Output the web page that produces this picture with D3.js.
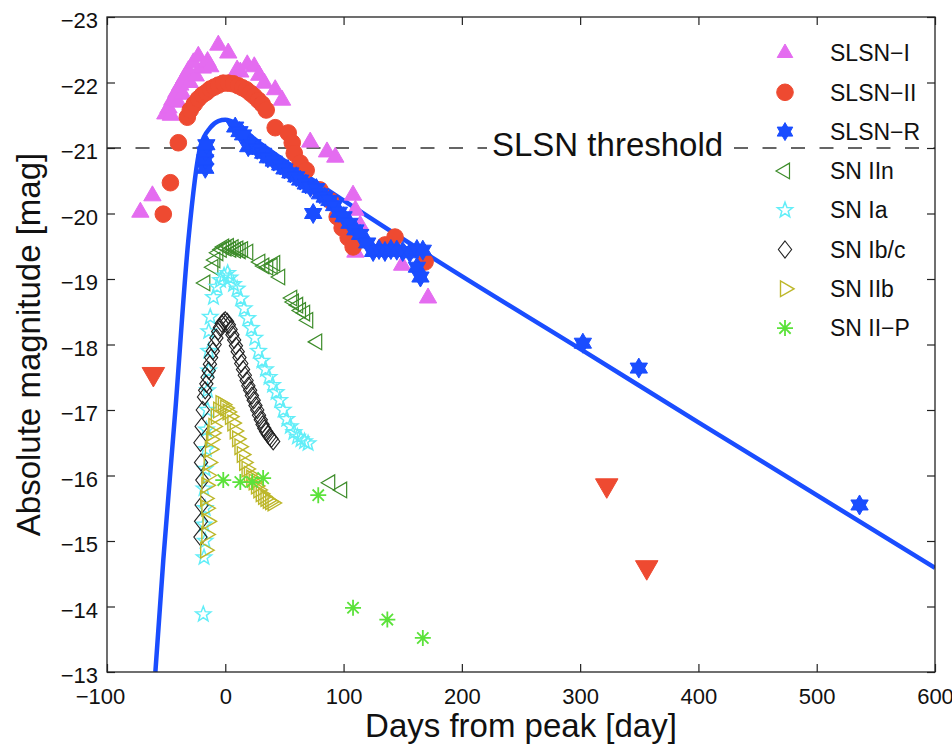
<!DOCTYPE html>
<html>
<head>
<meta charset="utf-8">
<script src="https://cdn.jsdelivr.net/npm/d3@7"></script>
<style>
  html, body { margin: 0; padding: 0; background: #ffffff; }
  #idMyCanvas { width: 952px; height: 750px; }
</style>
</head>
<body>
<div id="idMyCanvas"></div>
<script>
// Data (days from peak, absolute magnitude)
// -------------------
let x_ticks = [-100, 0, 100, 200, 300, 400, 500, 600];
let y_ticks = [-23, -22, -21, -20, -19, -18, -17, -16, -15, -14, -13];

let legend_names = ["SLSN\u2212I", "SLSN\u2212II", "SLSN\u2212R", "SN IIn", "SN Ia", "SN Ib/c", "SN IIb", "SN II\u2212P"];

let threshold_mag = -21;
let threshold_label = "SLSN threshold";

let slsn_i = [
  [-71.8, -20.02], [-61.6, -20.27], [-50.7, -21.52], [-48, -21.61], [-46, -21.5], [-44.8, -21.73],
  [-41.4, -21.85], [-40, -21.7], [-38, -21.96], [-36, -21.82], [-34.6, -22.07], [-31.2, -22.18],
  [-30, -22.0], [-27, -22.3], [-25, -22.1], [-22.8, -22.4], [-19, -22.22], [-15, -22.32],
  [-12.7, -22.24], [-5.9, -22.57], [2.5, -22.45], [10, -22.19], [12.7, -22.16], [18.6, -22.27],
  [24.5, -22.24], [28.7, -22.11], [33, -21.99], [42.2, -21.89], [48, -21.73], [71.8, -21.09],
  [86, -20.94], [93, -20.86], [108, -20.28], [110, -20.05], [114, -19.82], [110, -19.41],
  [149.5, -19.21], [171.4, -18.71]
];

let slsn_ii = [
  [-52.4, -19.99], [-46.4, -20.47], [-39.7, -21.08], [-32.1, -21.47], [-29.6, -21.58], [-26.2, -21.67],
  [-22.8, -21.75], [-19.4, -21.81], [-16, -21.85], [-12.7, -21.9], [-9.3, -21.93], [-5.9, -21.96],
  [-1.7, -21.99], [2.5, -21.99], [6.8, -21.98], [11, -21.95], [14.4, -21.92], [17.7, -21.89],
  [21.1, -21.84], [24.5, -21.79], [27.9, -21.73], [31.2, -21.67], [34.6, -21.58], [42.2, -21.31],
  [53.2, -21.23], [56.6, -21.08], [58.3, -20.92], [63.3, -20.77], [68.4, -20.66], [80, -20.36],
  [88.7, -20.2], [94.6, -19.95], [98.8, -19.78], [103.9, -19.63], [108.1, -19.49], [135.1, -19.52],
  [143.5, -19.64], [168.9, -19.26]
];

let slsn_ii_limits = [[-60.8, -17.55], [322.5, -15.85], [356.3, -14.6]];

let slsn_r = [
  [-16.9, -20.69], [-16.9, -20.82], [-16.9, -20.94], [-16, -21.05], [8.4, -21.32], [12, -21.25],
  [15, -21.2], [19.4, -21.02], [23, -21.05], [27, -20.98], [32, -20.92], [36, -20.85],
  [41, -20.8], [46.4, -20.74], [50, -20.68], [55, -20.62], [60, -20.56], [63.3, -20.51],
  [68, -20.45], [72, -20.4], [74.3, -20.0], [77, -20.38], [80, -20.3], [84, -20.25],
  [88, -20.2], [92, -20.12], [96, -20.02], [100, -19.95], [105, -19.85], [110, -19.75],
  [114, -19.68], [120, -19.55], [125, -19.42], [130, -19.45], [135, -19.42], [140, -19.45],
  [145, -19.44], [150, -19.42], [156, -19.4], [162, -19.45], [167, -19.44], [162, -19.18],
  [165, -19.03], [302.3, -18.02], [349.6, -17.64], [536.2, -15.55]
];

let model_curve = [
  [-59.1, -13.0], [-52.4, -14.71], [-42.2, -17.0], [-31.2, -19.6], [-21.1, -21.02], [-12.7, -21.31],
  [-5.9, -21.41], [0, -21.43], [8.4, -21.38], [16.9, -21.26], [25.3, -21.13], [38, -20.96],
  [100, -20.2], [179, -19.28], [302, -17.91], [401, -16.8], [600, -14.59]
];

let sn_iin = [
  [-16.9, -18.94], [-10.1, -19.18], [-8.4, -19.29], [-5.9, -19.4], [-3, -19.45], [-1, -19.49],
  [1, -19.47], [3, -19.5], [5, -19.45], [7, -19.48], [9, -19.44], [11, -19.46],
  [13, -19.43], [15, -19.45], [19.4, -19.41], [29.6, -19.26], [33, -19.2], [36.3, -19.18],
  [40, -19.2], [42.2, -19.24], [46.4, -19.03], [56.6, -18.71], [58, -18.65], [61.6, -18.6],
  [64, -18.52], [67.5, -18.48], [70.1, -18.37], [77.7, -18.04], [88.7, -15.89], [98.8, -15.78]
];

let sn_ia = [
  [-18.6, -13.88], [-18, -14.75], [-17, -15.0], [-18, -15.25], [-17, -15.5], [-18, -15.8],
  [-17, -16.1], [-16, -16.4], [-16, -16.7], [-15, -17.0], [-15, -17.3], [-14, -17.6],
  [-14, -17.9], [-14, -18.2], [-12.7, -18.42], [-10, -18.72], [-7, -18.88], [-4, -18.98],
  [-1, -19.05], [2, -19.09], [4, -19.02], [7, -18.92], [10, -18.85], [13, -18.7],
  [16, -18.55], [19, -18.4], [22, -18.25], [25, -18.1], [28, -17.9], [31, -17.75],
  [34, -17.62], [37, -17.5], [40, -17.38], [43, -17.27], [46, -17.15], [49, -17.0],
  [52, -16.86], [55, -16.75], [58, -16.66], [61, -16.59], [64, -16.55], [67, -16.52], [70, -16.49]
];

let sn_ibc = [
  [-21, -15.06], [-20.5, -15.3], [-20, -15.55], [-19.4, -15.93], [-20.5, -16.2], [-21, -16.5],
  [-20, -16.75], [-19, -17.0], [-18, -17.2], [-17, -17.3], [-16, -17.4], [-15, -17.5],
  [-14, -17.6], [-13, -17.7], [-12, -17.8], [-10.5, -17.9], [-9, -18.0], [-7.5, -18.1],
  [-6, -18.2], [-4.5, -18.26], [-3, -18.32], [-1.5, -18.35], [0, -18.37], [1.5, -18.35],
  [3, -18.3], [4.5, -18.23], [6, -18.15], [7.5, -18.07], [9, -17.98], [10.5, -17.89],
  [12, -17.8], [13.5, -17.71], [15, -17.62], [16.5, -17.53], [18, -17.45], [19.5, -17.37],
  [21, -17.3], [22.5, -17.22], [24, -17.15], [25.5, -17.07], [27, -17.0], [28.5, -16.92],
  [30, -16.85], [31.5, -16.78], [33, -16.72], [34.5, -16.67], [36, -16.63], [37.5, -16.59],
  [39, -16.56], [40.5, -16.52]
];

let sn_iib = [
  [-17, -14.86], [-16, -15.1], [-15, -15.3], [-16, -15.5], [-17, -15.65], [-16, -15.85],
  [-15, -16.0], [-14, -16.2], [-13, -16.4], [-12, -16.55], [-11, -16.65], [-10, -16.75],
  [-8, -16.9], [-6, -17.0], [-4, -17.1], [-2, -17.08], [0, -17.03], [2, -16.97],
  [4, -16.9], [6, -16.8], [8, -16.68], [10, -16.56], [12, -16.44], [14, -16.32],
  [16, -16.2], [18, -16.1], [20, -16.02], [22, -15.96], [24, -15.9], [26, -15.84],
  [28, -15.78], [30, -15.72], [32, -15.68], [34, -15.65], [36, -15.62], [38, -15.6], [40, -15.58]
];

let sn_iip = [
  [-1.7, -15.93], [12.7, -15.9], [22.8, -15.9], [32, -15.96], [78.6, -15.7],
  [108, -13.98], [137, -13.8], [167, -13.52]
];
// -------------------


let container_id = "idMyCanvas";
let canvas_xn = 952;
let canvas_yn = 750;
let font_family = "'Liberation Sans', Arial, Helvetica, sans-serif";

let svg_obj = d3.select("#" + container_id)
                .append("svg")
                  .attr("width", canvas_xn)
                  .attr("height", canvas_yn)
                  .attr("xmlns", "http://www.w3.org/2000/svg")
                  .style("background", "#ffffff");

let plot_x0 = 107, plot_x1 = 935;
let plot_y0 = 17, plot_y1 = 672;

let x_scale = d3.scaleLinear().domain([-100, 600]).range([plot_x0, plot_x1]);
let y_scale = d3.scaleLinear().domain([-23, -13]).range([plot_y0, plot_y1]);

svg_obj.append("clipPath")
  .attr("id", "plot_clip")
  .append("rect")
    .attr("x", plot_x0)
    .attr("y", plot_y0)
    .attr("width", plot_x1 - plot_x0)
    .attr("height", plot_y1 - plot_y0);


// Marker shapes (size argument = radius in px)
// -------------------
let sym_tri_up = { draw: function (ctx, r) {
  ctx.moveTo(0, -r); ctx.lineTo(r * 0.866, r * 0.5); ctx.lineTo(-r * 0.866, r * 0.5); ctx.closePath();
} };
let sym_tri_down = { draw: function (ctx, r) {
  ctx.moveTo(0, r); ctx.lineTo(-r * 0.866, -r * 0.5); ctx.lineTo(r * 0.866, -r * 0.5); ctx.closePath();
} };
let sym_tri_left = { draw: function (ctx, r) {
  ctx.moveTo(-r, 0); ctx.lineTo(r * 0.5, -r * 0.866); ctx.lineTo(r * 0.5, r * 0.866); ctx.closePath();
} };
let sym_tri_right = { draw: function (ctx, r) {
  ctx.moveTo(r, 0); ctx.lineTo(-r * 0.5, r * 0.866); ctx.lineTo(-r * 0.5, -r * 0.866); ctx.closePath();
} };
let sym_circle = { draw: function (ctx, r) {
  ctx.moveTo(r, 0); ctx.arc(0, 0, r, 0, 2 * Math.PI);
} };
let sym_hexagram = { draw: function (ctx, r) {
  sym_tri_up.draw(ctx, r);
  sym_tri_down.draw(ctx, r);
} };
let sym_pentagram = { draw: function (ctx, r) {
  for (let i = 0; i < 10; i++) {
    let a = -Math.PI / 2 + i * Math.PI / 5;
    let rr = (i % 2 === 0) ? r : r * 0.42;
    if (i === 0) ctx.moveTo(rr * Math.cos(a), rr * Math.sin(a));
    else ctx.lineTo(rr * Math.cos(a), rr * Math.sin(a));
  }
  ctx.closePath();
} };
let sym_diamond = { draw: function (ctx, r) {
  ctx.moveTo(0, -r); ctx.lineTo(r * 0.78, 0); ctx.lineTo(0, r); ctx.lineTo(-r * 0.78, 0); ctx.closePath();
} };
let sym_asterisk = { draw: function (ctx, r) {
  let d = r * 0.707;
  ctx.moveTo(-r, 0); ctx.lineTo(r, 0);
  ctx.moveTo(0, -r); ctx.lineTo(0, r);
  ctx.moveTo(-d, -d); ctx.lineTo(d, d);
  ctx.moveTo(-d, d); ctx.lineTo(d, -d);
} };
// -------------------


// Series styling (legend order)
// -------------------
let series_list = [
  { values: slsn_i,  shape: sym_tri_up,    r: 10,  fill: "#e46cf0", stroke: "#e46cf0", sw: 1 },
  { values: slsn_ii, shape: sym_circle,    r: 8.3, fill: "#ee4a31", stroke: "#ee4a31", sw: 1 },
  { values: slsn_r,  shape: sym_hexagram,  r: 10,  fill: "#1a4dff", stroke: "#1a4dff", sw: 1 },
  { values: sn_iin,  shape: sym_tri_left,  r: 9,   fill: "none",    stroke: "#3d8c2a", sw: 1.2 },
  { values: sn_ia,   shape: sym_pentagram, r: 8,   fill: "none",    stroke: "#62eef8", sw: 1.5 },
  { values: sn_ibc,  shape: sym_diamond,   r: 8.5, fill: "none",    stroke: "#222222", sw: 1.1 },
  { values: sn_iib,  shape: sym_tri_right, r: 9,   fill: "none",    stroke: "#bdb72a", sw: 1.4 },
  { values: sn_iip,  shape: sym_asterisk,  r: 8,   fill: "none",    stroke: "#5be23a", sw: 1.8 }
];
// -------------------


// Threshold line
// -------------------
svg_obj.append("line")
  .attr("x1", plot_x0)
  .attr("x2", plot_x1)
  .attr("y1", y_scale(threshold_mag))
  .attr("y2", y_scale(threshold_mag))
  .attr("stroke", "#333333")
  .attr("stroke-width", 1.4)
  .attr("stroke-dasharray", "14,14.5");
// -------------------


// Model curve
// -------------------
let line_gen = d3.line()
  .x(d => x_scale(d[0]))
  .y(d => y_scale(d[1]))
  .curve(d3.curveMonotoneX);

svg_obj.append("path")
  .attr("clip-path", "url(#plot_clip)")
  .attr("d", line_gen(model_curve))
  .attr("fill", "none")
  .attr("stroke", "#1a4dff")
  .attr("stroke-width", 4.5);
// -------------------


// Markers
// -------------------
let marks_g = svg_obj.append("g").attr("clip-path", "url(#plot_clip)");

series_list.forEach(function (s) {
  marks_g.append("g")
    .selectAll("path")
    .data(s.values)
    .join("path")
      .attr("d", d3.symbol().type(s.shape).size(s.r))
      .attr("transform", d => "translate(" + x_scale(d[0]) + "," + y_scale(d[1]) + ")")
      .attr("fill", s.fill)
      .attr("stroke", s.stroke)
      .attr("stroke-width", s.sw);
});

marks_g.append("g")
  .selectAll("path")
  .data(slsn_ii_limits)
  .join("path")
    .attr("d", d3.symbol().type(sym_tri_down).size(13))
    .attr("transform", d => "translate(" + x_scale(d[0]) + "," + y_scale(d[1]) + ")")
    .attr("fill", "#ee4a31")
    .attr("stroke", "#ee4a31")
    .attr("stroke-width", 1);
// -------------------


// Threshold label (white background)
// -------------------
svg_obj.append("rect")
  .attr("x", 487)
  .attr("y", 130)
  .attr("width", 244)
  .attr("height", 32)
  .attr("fill", "#ffffff");

svg_obj.append("text")
  .attr("x", 492)
  .attr("y", 156)
  .attr("font-family", font_family)
  .attr("font-size", 33)
  .attr("fill", "#111111")
  .text(threshold_label);
// -------------------


// Axes
// -------------------
let tick_font = 22;

let x_axis_obj = svg_obj.append("g")
  .attr("transform", "translate(0," + plot_y1 + ")")
  .call(d3.axisBottom(x_scale).tickValues(x_ticks).tickSizeInner(-8).tickSizeOuter(0).tickPadding(16));

svg_obj.append("g")
  .attr("transform", "translate(0," + plot_y0 + ")")
  .call(d3.axisTop(x_scale).tickValues(x_ticks).tickSizeInner(-8).tickSizeOuter(0).tickFormat(""));

let y_axis_obj = svg_obj.append("g")
  .attr("transform", "translate(" + plot_x0 + ",0)")
  .call(d3.axisLeft(y_scale).tickValues(y_ticks).tickSizeInner(-8).tickSizeOuter(0).tickPadding(9));

svg_obj.append("g")
  .attr("transform", "translate(" + plot_x1 + ",0)")
  .call(d3.axisRight(y_scale).tickValues(y_ticks).tickSizeInner(-8).tickSizeOuter(0).tickFormat(""));

svg_obj.selectAll(".domain").remove();
svg_obj.selectAll(".tick line").attr("stroke", "#222222").attr("stroke-width", 1.2);
svg_obj.selectAll(".tick text")
  .attr("font-family", font_family)
  .attr("font-size", tick_font)
  .attr("fill", "#111111");

y_axis_obj.selectAll(".tick text").attr("dy", "0.48em");
// MATLAB centres the digits, the minus sign hangs to the left
x_axis_obj.selectAll(".tick text").filter(d => d < 0).attr("dx", -7);

svg_obj.append("rect")
  .attr("x", plot_x0)
  .attr("y", plot_y0)
  .attr("width", plot_x1 - plot_x0)
  .attr("height", plot_y1 - plot_y0)
  .attr("fill", "none")
  .attr("stroke", "#222222")
  .attr("stroke-width", 1.3);

svg_obj.append("text")
  .attr("x", (plot_x0 + plot_x1) / 2)
  .attr("y", 737)
  .attr("text-anchor", "middle")
  .attr("font-family", font_family)
  .attr("font-size", 33)
  .attr("fill", "#111111")
  .text("Days from peak [day]");

svg_obj.append("text")
  .attr("transform", "translate(40," + ((plot_y0 + plot_y1) / 2) + ") rotate(-90)")
  .attr("text-anchor", "middle")
  .attr("font-family", font_family)
  .attr("font-size", 33)
  .attr("fill", "#111111")
  .text("Absolute magnitude [mag]");
// -------------------


// Legend
// -------------------
let legend_x = 785;
let legend_text_x = 830;
let legend_y0 = 53;
let legend_dy = 39.3;

let legend_g = svg_obj.append("g");

series_list.forEach(function (s, i) {
  let yy = legend_y0 + i * legend_dy;
  legend_g.append("path")
    .attr("d", d3.symbol().type(s.shape).size(Math.min(s.r, 9)))
    .attr("transform", "translate(" + legend_x + "," + yy + ")")
    .attr("fill", s.fill)
    .attr("stroke", s.stroke)
    .attr("stroke-width", s.sw);
  legend_g.append("text")
    .attr("x", legend_text_x)
    .attr("y", yy)
    .attr("dy", "0.36em")
    .attr("font-family", font_family)
    .attr("font-size", 23)
    .attr("fill", "#111111")
    .text(legend_names[i]);
});
// -------------------
</script>
</body>
</html>
